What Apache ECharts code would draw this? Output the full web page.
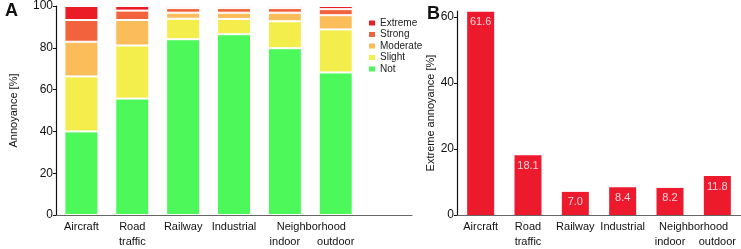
<!DOCTYPE html>
<html>
<head>
<meta charset="utf-8">
<script src="https://cdn.jsdelivr.net/npm/echarts@6/dist/echarts.min.js"></script>
<style>
  html, body { margin: 0; padding: 0; background: #fff; }
  #chart { width: 741px; height: 249px; }
</style>
</head>
<body>
<div id="chart"></div>
<script>
// categories (the last two share the "Neighborhood" group label)
const categories = ["Aircraft", "Road\ntraffic", "Railway", "Industrial", "indoor", "outdoor"]
const groupLabel = "Neighborhood"

// panel A: annoyance levels [%], stacked bottom to top
const notAnnoyed = [40.0, 55.7, 84.1, 86.5, 79.8, 68.2]
const slight = [26.3, 25.4, 9.8, 7.3, 12.9, 20.6]
const moderate = [16.6, 12.2, 2.9, 3.0, 4.1, 6.8]
const strong = [10.4, 4.5, 2.2, 2.2, 2.2, 2.9]
const extreme = [6.7, 2.2, 1.0, 1.0, 1.0, 1.5]

// panel B: extreme annoyance [%]
const extremeAnnoyance = [61.6, 18.1, 7.0, 8.4, 8.2, 11.8]

const ticksA = [0, 20, 40, 60, 80, 100]
const ticksB = [0, 20, 40, 60]

const font = '"Liberation Sans", Arial, sans-serif'

const levels = [
  { name: "Not", data: notAnnoyed, color: "#4cf85a" },
  { name: "Slight", data: slight, color: "#f4ee4c" },
  { name: "Moderate", data: moderate, color: "#fabd5a" },
  { name: "Strong", data: strong, color: "#f2623c" },
  { name: "Extreme", data: extreme, color: "#ec1c26" }
]

const myChart = echarts.init(document.getElementById("chart"), null, { renderer: "canvas" })

// category label: group name shifted to sit between indoor / outdoor
function catLabel(value) {
  if (value === "indoor") {
    return "{g|" + groupLabel + "}\n" + value
  }
  if (value === "outdoor") {
    return " \n" + value
  }
  return value
}

function xAxisFor(gridIndex, data, slot) {
  return {
    type: "category",
    gridIndex: gridIndex,
    data: data,
    axisLine: { lineStyle: { color: "#666", width: 1 } },
    axisTick: { show: false },
    axisLabel: {
      interval: 0,
      margin: 4,
      color: "#111",
      fontFamily: font,
      fontSize: 11,
      lineHeight: 15,
      formatter: catLabel,
      rich: {
        g: { padding: [0, 0, 0, slot], fontFamily: font, fontSize: 11, color: "#111", lineHeight: 15 }
      }
    }
  }
}

function yAxisFor(gridIndex, max, ticks, name, gap) {
  return {
    type: "value",
    gridIndex: gridIndex,
    min: 0,
    max: max,
    name: name,
    nameLocation: "middle",
    nameGap: gap,
    nameTextStyle: { fontFamily: font, fontSize: 11, color: "#111" },
    splitLine: { show: false },
    axisLine: { show: true, lineStyle: { color: "#111", width: 1.2 } },
    axisTick: { show: true, length: 3, lineStyle: { color: "#111" }, customValues: ticks },
    axisLabel: { fontFamily: font, fontSize: 12, color: "#111", margin: 3, customValues: ticks }
  }
}

const option = {
  animation: false,
  backgroundColor: "#fff",
  textStyle: { fontFamily: font },
  title: [
    { text: "A", left: 0, top: -3, textStyle: { fontFamily: font, fontWeight: "bold", fontSize: 18, color: "#111" } },
    { text: "B", left: 422, top: 0, textStyle: { fontFamily: font, fontWeight: "bold", fontSize: 18, color: "#111" } }
  ],
  legend: {
    orient: "vertical",
    left: 362,
    top: 13,
    itemWidth: 8,
    itemHeight: 7,
    itemGap: 1.5,
    icon: "rect",
    textStyle: { fontFamily: font, fontSize: 10, color: "#222", padding: [0, 0, 0, -1] },
    data: ["Extreme", "Strong", "Moderate", "Slight", "Not"]
  },
  grid: [
    { left: 40, top: 6, width: 372, height: 210 },
    { left: 457, top: 11, right: 0, height: 206 }
  ],
  xAxis: [
    xAxisFor(0, categories.concat([""]), 53),
    xAxisFor(1, categories, 47.3)
  ],
  yAxis: [
    yAxisFor(0, 100, ticksA, "Annoyance [%]", 37),
    yAxisFor(1, 61.8, ticksB, "Extreme annoyance [%]", 21)
  ],
  series: levels.map(function (lv) {
    return {
      name: lv.name,
      type: "bar",
      stack: "annoy",
      xAxisIndex: 0,
      yAxisIndex: 0,
      barWidth: 34,
      data: lv.data,
      itemStyle: { color: lv.color, borderColor: "#fff", borderWidth: 1 }
    }
  }).concat([
    {
      name: "Extreme annoyance",
      type: "bar",
      xAxisIndex: 1,
      yAxisIndex: 1,
      barWidth: 27,
      data: extremeAnnoyance,
      itemStyle: { color: "#ec1a2c" },
      label: {
        show: true,
        position: "insideTop",
        distance: 5,
        fontFamily: font,
        fontSize: 11,
        color: "#ffd3dc",
        formatter: function (p) { return p.value.toFixed(1) }
      }
    }
  ])
}

myChart.setOption(option)
</script>
</body>
</html>
